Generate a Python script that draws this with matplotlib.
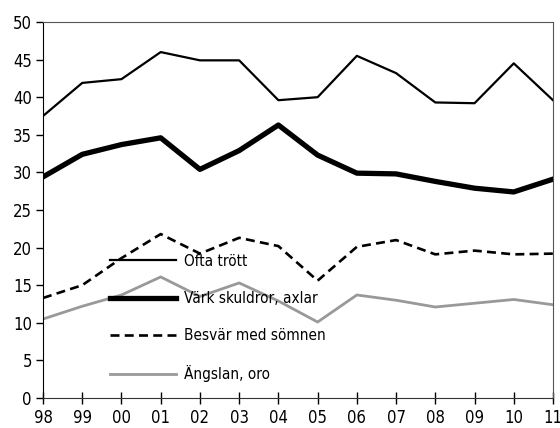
import numpy as np
import matplotlib
matplotlib.use('Agg')
import matplotlib.pyplot as plt

years = ['98', '99', '00', '01', '02', '03', '04', '05', '06', '07', '08', '09', '10', '11']

ofta_trott = [37.5, 41.9, 42.4, 46.0, 44.9, 44.9, 39.6, 40.0, 45.5, 43.2, 39.3, 39.2, 44.5, 39.6]
vark_skuldror = [29.4, 32.4, 33.7, 34.6, 30.4, 32.9, 36.3, 32.3, 29.9, 29.8, 28.8, 27.9, 27.4, 29.1]
besvar_somnen = [13.3, 15.0, 18.6, 21.8, 19.2, 21.3, 20.2, 15.6, 20.1, 21.0, 19.1, 19.6, 19.1, 19.2]
angslan_oro = [10.5, 12.2, 13.7, 16.1, 13.5, 15.3, 12.9, 10.1, 13.7, 13.0, 12.1, 12.6, 13.1, 12.4]

# narrow look, like the original
plt.rcParams['font.family'] = ['DejaVu Sans']
plt.rcParams['font.stretch'] = 'condensed'

fig = plt.figure(figsize=(5.6, 4.28), dpi=100)
ax = fig.add_axes([0.0768, 0.0701, 0.9107, 0.8785])

x = np.arange(len(years))
ax.plot(x, ofta_trott, color='black', lw=1.6, label='Ofta trött')
ax.plot(x, vark_skuldror, color='black', lw=3.8, label='Värk skuldror, axlar')
ax.plot(x, besvar_somnen, color='black', lw=1.9, dashes=(3.4, 2.0), label='Besvär med sömnen')
ax.plot(x, angslan_oro, color='#999999', lw=2.0, label='Ängslan, oro')

ax.set_xlim(0, len(years) - 1)
ax.set_ylim(0, 50)
ax.set_xticks(x)
ax.set_xticklabels(years)
ax.set_yticks(np.arange(0, 51, 5))
ax.tick_params(axis='x', direction='inout', length=8, width=1, labelsize=12, pad=4)
ax.tick_params(axis='y', direction='out', length=5, width=1, labelsize=12, pad=3)

for s in ['top', 'right']:
    ax.spines[s].set_color('#555555')
ax.spines['bottom'].set_color('#333333')
ax.spines['left'].set_color('black')

ax.legend(loc='upper left', bbox_to_anchor=(0.12, 0.40), frameon=False,
          fontsize=11, handlelength=4.3, labelspacing=1.45, handletextpad=0.5,
          borderaxespad=0)

fig.savefig('out.png', dpi=100)
